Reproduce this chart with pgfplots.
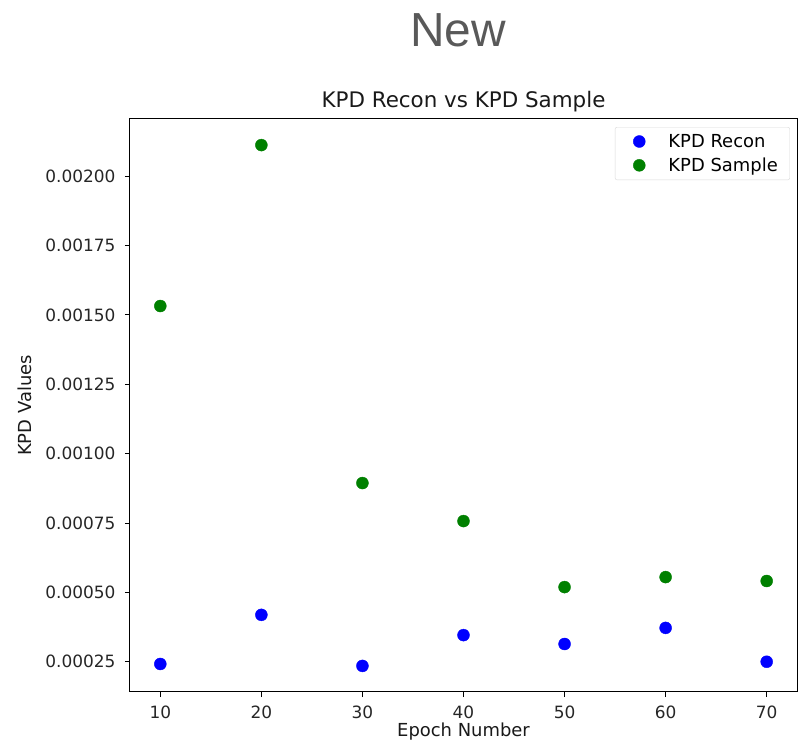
\documentclass[border=0pt]{standalone}
\usepackage{pgfplots}
\pgfplotsset{compat=1.18}
\usepackage{fontspec}
\setmainfont{DejaVu Sans}
\newfontfamily\titlefont{Liberation Sans}
\definecolor{mblue}{RGB}{0,0,255}
\definecolor{mgreen}{RGB}{0,128,0}
\definecolor{tgrey}{RGB}{89,89,89}
\begin{document}
\begin{tikzpicture}
\useasboundingbox (-130bp,-49bp) rectangle (668bp,692bp);
\node[anchor=base, font=\titlefont\fontsize{48}{48}\selectfont, text=tgrey, inner sep=0pt] at (328bp,645bp) {New};
\begin{axis}[
  at={(0,0)}, anchor=south west,
  scale only axis, width=667bp, height=573bp,
  xmin=7, xmax=73, ymin=0.000141, ymax=0.002206,
  xtick={10,20,30,40,50,60,70},
  ytick={0.00025,0.0005,0.00075,0.001,0.00125,0.0015,0.00175,0.002},
  scaled y ticks=false,
  /pgf/number format/assume math mode=true,
  tick label style={font=\fontsize{17}{19}\selectfont, text=black!85},
  yticklabel style={xshift=-6bp, /pgf/number format/fixed, /pgf/number format/fixed zerofill, /pgf/number format/precision=5},
  xticklabel style={yshift=-5bp},
  tick align=outside, major tick length=5bp,
  xtick pos=bottom, ytick pos=left,
  axis line style={line width=1bp},
  tick style={line width=1bp, black},
  title={KPD Recon vs KPD Sample},
  title style={font=\fontsize{21.5}{24}\selectfont, text=black!90, at={(axis description cs:0.5,1)}, anchor=base, yshift=6bp},
  xlabel={Epoch Number}, ylabel={KPD Values},
  label style={font=\fontsize{18}{20}\selectfont, text=black!90},
  xlabel style={at={(axis description cs:0.5,-0.0775)}, anchor=base},
  ylabel style={at={(axis description cs:-0.1574,0.5)}, anchor=center},
  legend style={font=\fontsize{18}{21}\selectfont, draw=black!15, rounded corners=2bp, at={(axis description cs:0.9895,0.986)}, anchor=north east, row sep=5bp, inner xsep=10bp, inner ysep=5bp},
  legend cell align=left,
  legend image code/.code={\path (0bp,-5bp) (41bp,5bp); \draw[#1] plot coordinates {(14bp,0bp)};},
]
\addplot[only marks, mark=*, mark size=6bp, color=mblue, mark options={draw=mblue, fill=mblue}] coordinates {
(10,0.000242) (20,0.000419) (30,0.000235) (40,0.000346) (50,0.000314) (60,0.000372) (70,0.000250)};
\addlegendentry{KPD Recon}
\addplot[only marks, mark=*, mark size=6bp, color=mgreen, mark options={draw=mgreen, fill=mgreen}] coordinates {
(10,0.001532) (20,0.002112) (30,0.000894) (40,0.000757) (50,0.000519) (60,0.000555) (70,0.000541)};
\addlegendentry{KPD Sample}
\end{axis}
\end{tikzpicture}
\end{document}
